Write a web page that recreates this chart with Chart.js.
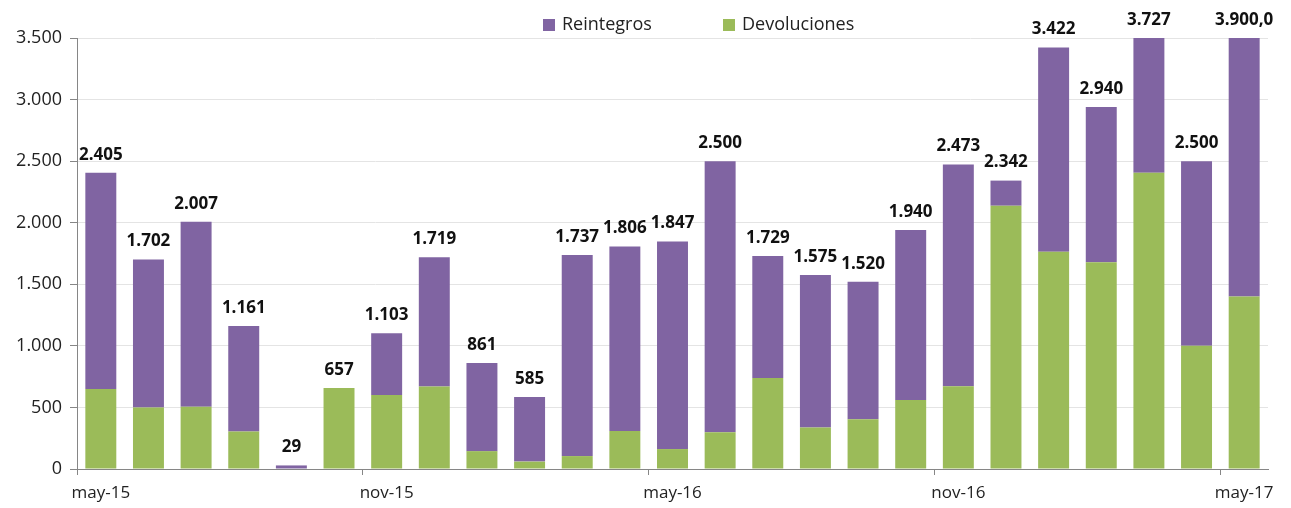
<!DOCTYPE html>
<html>
<head>
<meta charset="utf-8">
<script src="https://cdn.jsdelivr.net/npm/chart.js@4/dist/chart.umd.min.js"></script>
<style>
  html, body { margin: 0; padding: 0; background: #fff; }
  #wrap { width: 1291px; height: 508px; position: relative; }
</style>
</head>
<body>
<div id="wrap"><canvas id="chart"></canvas></div>
<script>
// months shown on the category axis (only every 6th label is printed)
const months = ['may-15', 'jun-15', 'jul-15', 'ago-15', 'sep-15', 'oct-15',
                'nov-15', 'dic-15', 'ene-16', 'feb-16', 'mar-16', 'abr-16',
                'may-16', 'jun-16', 'jul-16', 'ago-16', 'sep-16', 'oct-16',
                'nov-16', 'dic-16', 'ene-17', 'feb-17', 'mar-17', 'abr-17',
                'may-17'];

// green part, bottom of each stack
const devoluciones = [650, 500, 505, 305, 0, 657, 600, 670, 145, 60, 105, 308,
                      162, 298, 739, 336, 404, 560, 672, 2138, 1765, 1678, 2406, 1000, 1400];

// totals as printed above each bar
const totals = [2405, 1702, 2007, 1161, 29, 657, 1103, 1719, 861, 585, 1737, 1806,
                1847, 2500, 1729, 1575, 1520, 1940, 2473, 2342, 3422, 2940, 3727, 2500, 3900];
const totalLabels = ['2.405', '1.702', '2.007', '1.161', '29', '657', '1.103', '1.719',
                     '861', '585', '1.737', '1.806', '1.847', '2.500', '1.729', '1.575',
                     '1.520', '1.940', '2.473', '2.342', '3.422', '2.940', '3.727', '2.500',
                     '3.900,0'];

// purple part = total minus devoluciones
const reintegros = totals.map((t, i) => t - devoluciones[i]);

const PURPLE = '#8064A2';
const GREEN = '#9BBB59';
const FONT = "'Open Sans', 'DejaVu Sans', sans-serif";

function fmtThousands(v) {
    return String(v).replace(/\B(?=(\d{3})+(?!\d))/g, '.');
}

// totals printed above each stack
const totalsPlugin = {
    id: 'totals',
    afterDatasetsDraw(chart) {
        const ctx = chart.ctx;
        const y = chart.scales.y;
        const meta = chart.getDatasetMeta(1);
        ctx.save();
        ctx.font = 'bold 17px ' + FONT;
        ctx.fillStyle = '#111';
        ctx.textAlign = 'center';
        ctx.textBaseline = 'middle';
        meta.data.forEach((bar, i) => {
            const top = y.getPixelForValue(Math.min(totals[i], y.max));
            ctx.fillText(totalLabels[i], bar.x, top - 18);
        });
        ctx.restore();
    }
};

// legend drawn by hand so the gap between the two items can match
const legendPlugin = {
    id: 'customLegend',
    afterDraw(chart) {
        const ctx = chart.ctx;
        const items = [chart.data.datasets[1], chart.data.datasets[0]];
        const xs = [543, 723];
        ctx.save();
        ctx.font = '18px ' + FONT;
        ctx.textBaseline = 'middle';
        items.forEach((ds, k) => {
            ctx.fillStyle = ds.backgroundColor;
            ctx.fillRect(xs[k], 19, 12, 12);
            ctx.fillStyle = '#222';
            ctx.fillText(ds.label, xs[k] + 19, 25);
        });
        ctx.restore();
    }
};

new Chart(document.getElementById('chart'), {
    type: 'bar',
    data: {
        labels: months,
        datasets: [{
            label: 'Devoluciones',
            data: devoluciones,
            backgroundColor: GREEN,
            barPercentage: 0.65,
            categoryPercentage: 1
        }, {
            label: 'Reintegros',
            data: reintegros,
            backgroundColor: PURPLE,
            barPercentage: 0.65,
            categoryPercentage: 1
        }]
    },
    options: {
        responsive: true,
        maintainAspectRatio: false,
        animation: false,
        layout: {
            padding: { top: 38, right: 23, left: 0, bottom: 0 }
        },
        plugins: {
            legend: { display: false },
            tooltip: { enabled: false }
        },
        scales: {
            x: {
                stacked: true,
                grid: {
                    offset: true,
                    drawOnChartArea: false,
                    tickLength: 6,
                    tickColor: (c) => (c.index % 6 === 0 ? '#868686' : 'rgba(0,0,0,0)')
                },
                border: { color: '#868686' },
                ticks: {
                    autoSkip: false,
                    maxRotation: 0,
                    padding: 8,
                    color: '#222',
                    font: { family: FONT, size: 17 },
                    callback: function (value, index) {
                        return index % 6 === 0 ? this.getLabelForValue(value) : '';
                    }
                },
                afterFit(axis) { axis.height = 39; }
            },
            y: {
                stacked: true,
                min: 0,
                max: 3500,
                grid: {
                    color: '#e4e4e4',
                    tickColor: '#868686',
                    tickLength: 7
                },
                border: { color: '#868686' },
                ticks: {
                    stepSize: 500,
                    padding: 8,
                    color: '#222',
                    font: { family: FONT, size: 18 },
                    callback: (v) => fmtThousands(v)
                },
                afterFit(axis) { axis.width = 77; }
            }
        }
    },
    plugins: [totalsPlugin, legendPlugin]
});
</script>
</body>
</html>
